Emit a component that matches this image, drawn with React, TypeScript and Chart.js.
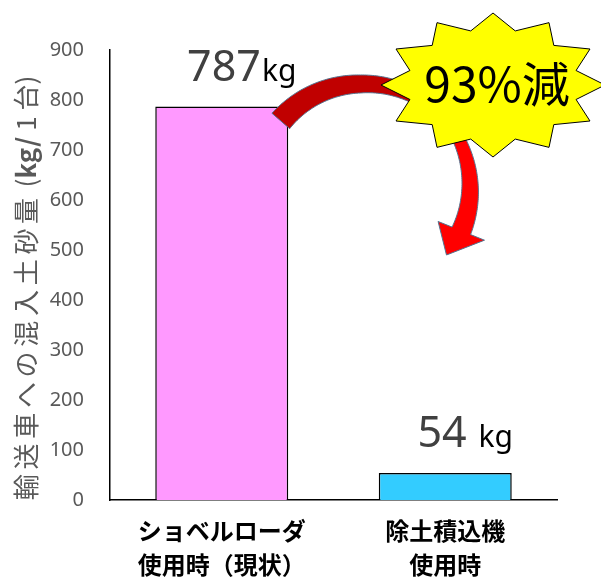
import React, { useEffect, useRef } from 'react';
import { Chart, registerables } from 'chart.js';

Chart.register(...registerables);

const categories: string[][] = [
  ['ショベルローダ', '使用時（現状）'],
  ['除土積込機', '使用時'],
];
const values: number[] = [787, 54];
const barColors: string[] = ['#FF99FF', '#33CCFF'];
const valueTexts: string[] = ['787', '54'];
const unitTexts: string[] = ['kg', ' kg'];
const yMin = 0;
const yMax = 900;
const yStep = 100;
// axis title split into parts: [text, weight, letterSpacing]
const axisTitleParts: [string, string, number][] = [
  ['輸送車への混入土砂量', 'normal', 4.7],
  [' (', 'normal', 0],
  ['kg/', 'bold', 0],
  [' 1 台)', 'normal', 0],
];
const reductionText = '93%減';

const annotPlugin = {
  id: 'annot',
  afterDraw(chart: any) {
    const ctx: CanvasRenderingContext2D = chart.ctx;
    const ca = chart.chartArea;
    ctx.save();
    ctx.fillStyle = '#595959';
    ctx.textBaseline = 'middle';
    ctx.textAlign = 'left';
    const widths: number[] = [];
    let total = 0;
    axisTitleParts.forEach(([t, w, ls]) => {
      ctx.font = `${w} 26px "Noto Sans CJK JP"`;
      (ctx as any).letterSpacing = `${ls}px`;
      const m = ctx.measureText(t).width;
      widths.push(m);
      total += m;
    });
    const midY = (ca.top + ca.bottom) / 2 + 13;
    ctx.translate(26, midY);
    ctx.rotate(-Math.PI / 2);
    let cur = -total / 2;
    axisTitleParts.forEach(([t, w, ls], i) => {
      ctx.font = `${w} 26px "Noto Sans CJK JP"`;
      (ctx as any).letterSpacing = `${ls}px`;
      ctx.fillText(t, cur, 0);
      cur += widths[i];
    });
    ctx.restore();
  },
  afterDatasetsDraw(chart: any) {
    const ctx: CanvasRenderingContext2D = chart.ctx;
    const meta = chart.getDatasetMeta(0);
    const ca = chart.chartArea;

    // curved arrow
    const b0 = meta.data[0].getProps(['x', 'y', 'width'], true);
    const cx = b0.x + b0.width / 2 + 72;
    const cy = b0.y + 83.5;
    const keys = [
      [-139, 93.5, 117],
      [-90, 97, 115],
      [-30, 105, 117],
      [22, 99, 119],
    ];
    const radii = (a: number) => {
      for (let i = 0; i < keys.length - 1; i++) {
        const [a0, i0, o0] = keys[i];
        const [a1, i1, o1] = keys[i + 1];
        if (a <= a1 || i === keys.length - 2) {
          const t = (a - a0) / (a1 - a0);
          return [i0 + (i1 - i0) * t, o0 + (o1 - o0) * t];
        }
      }
      return [100, 117];
    };
    const rad = (d: number) => (d * Math.PI) / 180;
    const pt = (a: number, r: number): [number, number] => [cx + r * Math.cos(rad(a)), cy + r * Math.sin(rad(a))];

    ctx.save();
    ctx.lineWidth = 1;
    ctx.strokeStyle = '#52728F';
    ctx.beginPath();
    for (let a = -42; a <= 22; a += 1) {
      const [x, y] = pt(a, radii(a)[1]);
      if (a === -42) ctx.moveTo(x, y);
      else ctx.lineTo(x, y);
    }
    ctx.lineTo(...pt(22, 134));
    ctx.lineTo(...pt(37, 108));
    ctx.lineTo(...pt(22, 84));
    for (let a = 22; a >= -42; a -= 1) {
      const [x, y] = pt(a, radii(a)[0]);
      ctx.lineTo(x, y);
    }
    ctx.closePath();
    ctx.fillStyle = '#FF0000';
    ctx.fill();
    ctx.stroke();
    ctx.beginPath();
    for (let a = -139; a <= -40; a += 1) {
      const [x, y] = pt(a, radii(a)[1]);
      if (a === -139) ctx.moveTo(x, y);
      else ctx.lineTo(x, y);
    }
    for (let a = -40; a >= -139; a -= 1) {
      const [x, y] = pt(a, radii(a)[0]);
      ctx.lineTo(x, y);
    }
    ctx.closePath();
    ctx.fillStyle = '#C00000';
    ctx.fill();
    ctx.stroke();

    // starburst
    const sx = ca.left + 383;
    const sy = ca.top + 35;
    ctx.beginPath();
    for (let k = 0; k < 24; k++) {
      const a = rad(-90 + k * 15);
      const outer = k % 2 === 0;
      const rx = outer ? 112 : 86;
      const ry = outer ? 72 : 56;
      const x = sx + rx * Math.cos(a);
      const y = sy + ry * Math.sin(a);
      if (k === 0) ctx.moveTo(x, y);
      else ctx.lineTo(x, y);
    }
    ctx.closePath();
    ctx.fillStyle = '#FFFF00';
    ctx.fill();
    ctx.strokeStyle = '#000';
    ctx.lineWidth = 1;
    ctx.stroke();
    ctx.fillStyle = '#000';
    ctx.font = '48px "Noto Sans CJK JP"';
    ctx.textAlign = 'center';
    ctx.textBaseline = 'alphabetic';
    ctx.fillText(reductionText, sx + 4, sy + 17);

    // value labels
    meta.data.forEach((bar: any, i: number) => {
      const p = bar.getProps(['x', 'y'], true);
      const f1 = '43px "Noto Sans"';
      const f2 = '30px "Noto Sans"';
      const gap = i === 0 ? 1 : 4;
      ctx.font = f1;
      const w1 = ctx.measureText(valueTexts[i]).width;
      ctx.font = f2;
      const w2 = ctx.measureText(unitTexts[i]).width;
      const start = p.x + 20 - (w1 + gap + w2) / 2;
      const base = p.y - 26;
      ctx.textAlign = 'left';
      ctx.textBaseline = 'alphabetic';
      ctx.font = f1;
      ctx.fillStyle = '#404040';
      ctx.fillText(valueTexts[i], start, base);
      ctx.font = f2;
      ctx.fillStyle = '#000';
      ctx.fillText(unitTexts[i], start + w1 + gap, base);
    });
    ctx.restore();
  },
};

export default function App() {
  const ref = useRef<HTMLCanvasElement | null>(null);
  useEffect(() => {
    if (!ref.current) return;
    const chart = new Chart(ref.current, {
      type: 'bar',
      data: {
        labels: categories as any,
        datasets: [
          {
            data: values,
            backgroundColor: barColors,
            borderColor: '#000',
            borderWidth: 1.5,
            categoryPercentage: 1,
            barPercentage: 0.595,
          },
        ],
      },
      options: {
        animation: false,
        responsive: true,
        maintainAspectRatio: false,
        layout: { padding: { top: 50, right: 44, left: 0, bottom: 0 } },
        plugins: { legend: { display: false }, tooltip: { enabled: false } },
        scales: {
          x: {
            grid: { display: false, drawTicks: false },
            border: { display: true, color: '#000', width: 1.5 },
            ticks: {
              color: '#000',
              padding: 14,
              font: { family: '"Noto Sans CJK JP"', size: 24, weight: 'bold', lineHeight: 1.4 },
            },
            afterFit: (s: any) => {
              s.height = 84;
            },
          },
          y: {
            min: yMin,
            max: yMax,
            grid: { display: false, drawTicks: false },
            border: { display: true, color: '#000', width: 1.5 },
            ticks: {
              stepSize: yStep,
              color: '#595959',
              padding: 26,
              font: { family: '"Noto Sans"', size: 20 },
            },
            title: { display: false },
            afterFit: (s: any) => {
              s.width = 110;
            },
          },
        },
      },
      plugins: [annotPlugin],
    });
    return () => chart.destroy();
  }, []);
  return (
    <div style={{ position: 'absolute', left: 0, top: 0, width: 601, height: 584 }}>
      <canvas ref={ref} />
    </div>
  );
}
